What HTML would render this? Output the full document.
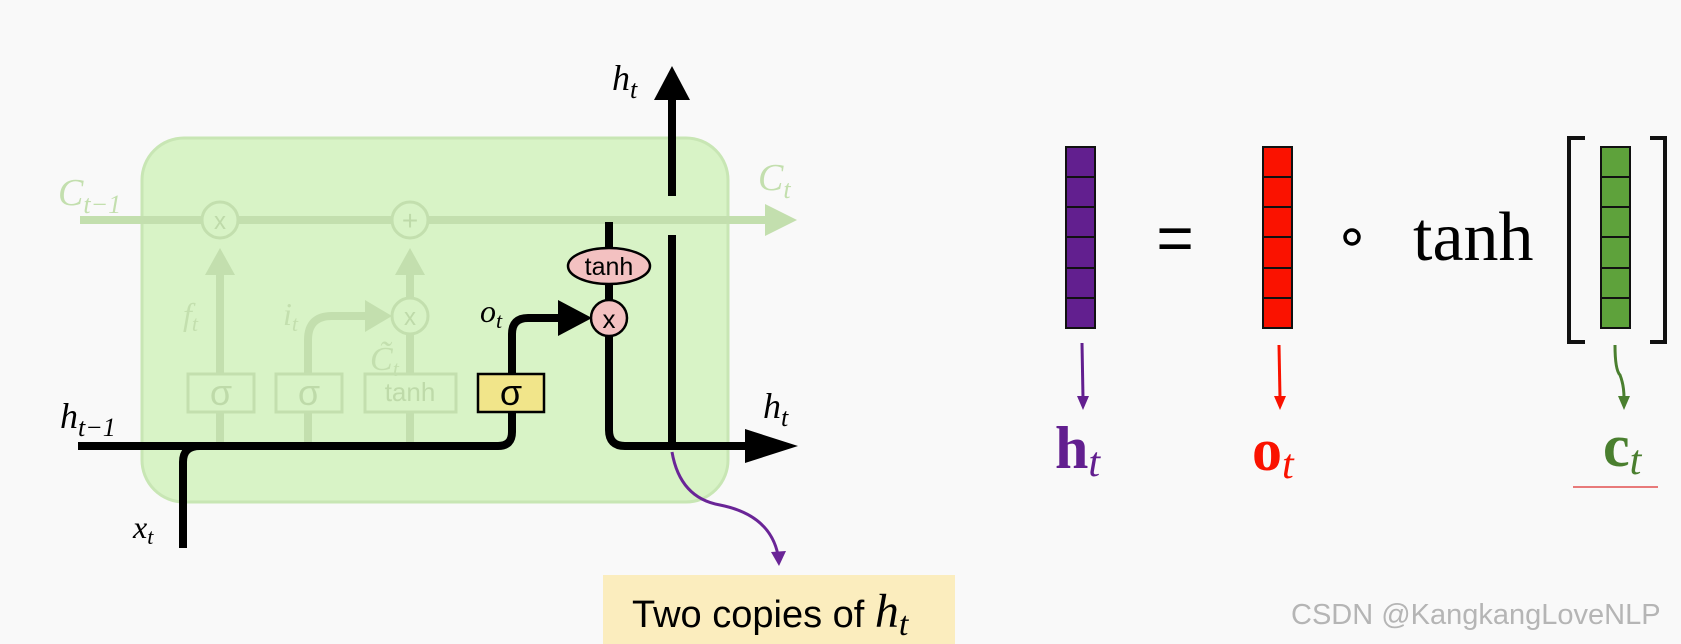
<!DOCTYPE html>
<html><head><style>html,body{margin:0;padding:0;background:#f9f9f9;}svg{display:block}</style></head>
<body>
<svg width="1681" height="644" viewBox="0 0 1681 644" xmlns="http://www.w3.org/2000/svg" font-family="Liberation Serif, serif">
<rect width="1681" height="644" fill="#f9f9f9"/>
<rect x="142" y="138" width="586" height="364" rx="42" fill="#d8f3c6" stroke="#c8e6b4" stroke-width="3"/>
<g stroke="#c3dfae" fill="none" stroke-width="8">
<line x1="80" y1="220" x2="765" y2="220"/>
<line x1="220" y1="446" x2="220" y2="270"/>
<line x1="410" y1="446" x2="410" y2="334"/>
<line x1="410" y1="298" x2="410" y2="270"/>
<path d="M308 446 V340 Q308 316 332 316 H370"/>
</g>
<g fill="#c3dfae">
<polygon points="765,204 797,220 765,236"/>
<polygon points="205,275 220,248 235,275"/>
<polygon points="395,275 410,248 425,275"/>
<polygon points="365,300 392,316 365,332"/>
</g>
<g fill="#d8f3c6" stroke="#c3dfae" stroke-width="3">
<circle cx="220" cy="220" r="18"/><circle cx="410" cy="220" r="18"/><circle cx="410" cy="316" r="18"/>
<rect x="188" y="374" width="66" height="38"/><rect x="276" y="374" width="66" height="38"/><rect x="365" y="374" width="91" height="38"/>
</g>
<g fill="#bedaa9" font-family="Liberation Sans, sans-serif" text-anchor="middle">
<text x="220" y="229" font-size="24">x</text><text x="410" y="230" font-size="28">+</text><text x="410" y="325" font-size="24">x</text>
<text x="221" y="405" font-size="36">σ</text><text x="309" y="405" font-size="36">σ</text><text x="410" y="401" font-size="26">tanh</text>
</g>
<g fill="#c3dfae" font-style="italic">
<text x="58" y="205" font-size="38">C<tspan font-size="26" dy="8">t−1</tspan></text>
<text x="758" y="190" font-size="38">C<tspan font-size="26" dy="8">t</tspan></text>
<text x="183" y="325" font-size="32">f<tspan font-size="22" dy="6">t</tspan></text>
<text x="283" y="325" font-size="32">i<tspan font-size="22" dy="6">t</tspan></text>
<text x="370" y="370" font-size="34">C̃<tspan font-size="22" dy="6">t</tspan></text>
</g>
<g stroke="#000" fill="none" stroke-width="8">
<path d="M78 446 H498 Q512 446 512 432 V412"/>
<path d="M183 548 V462 Q183 446 200 446"/>
<path d="M512 374 V334 Q512 318 528 318 H562"/>
<line x1="609" y1="222" x2="609" y2="248"/>
<line x1="609" y1="283" x2="609" y2="300"/>
<path d="M609 336 V430 Q609 446 625 446 H745"/>
<line x1="672" y1="446" x2="672" y2="235"/>
<line x1="672" y1="196" x2="672" y2="95"/>
</g>
<polygon points="558,300 592,318 558,336" fill="#000"/>
<polygon points="745,429 798,446 745,463" fill="#000"/>
<polygon points="654,100 672,66 690,100" fill="#000"/>
<rect x="478" y="374" width="66" height="38" fill="#f1e58a" stroke="#000" stroke-width="2.5"/>
<text x="511" y="405" font-size="36" font-family="Liberation Sans, sans-serif" text-anchor="middle">σ</text>
<ellipse cx="609" cy="266" rx="41" ry="18" fill="#f3c1c1" stroke="#000" stroke-width="2.5"/>
<text x="609" y="275" font-size="25" font-family="Liberation Sans, sans-serif" text-anchor="middle">tanh</text>
<circle cx="609" cy="318" r="18" fill="#f3c1c1" stroke="#000" stroke-width="2.5"/>
<text x="609" y="328" font-size="26" font-family="Liberation Sans, sans-serif" text-anchor="middle">x</text>
<g font-style="italic" fill="#000">
<text x="60" y="428" font-size="36">h<tspan font-size="26" dy="8">t−1</tspan></text>
<text x="133" y="538" font-size="32">x<tspan font-size="22" dy="6">t</tspan></text>
<text x="480" y="322" font-size="32">o<tspan font-size="22" dy="6">t</tspan></text>
<text x="612" y="90" font-size="36">h<tspan font-size="26" dy="8">t</tspan></text>
<text x="763" y="418" font-size="36">h<tspan font-size="26" dy="8">t</tspan></text>
</g>
<path d="M672 452 Q680 498 720 505 Q770 515 778 555" stroke="#6a2597" stroke-width="3" fill="none"/>
<polygon points="771,552 779,566 786,551" fill="#6a2597"/>
<rect x="603" y="575" width="352" height="69" fill="#fbedbe"/>
<text x="632" y="627" font-size="38" font-family="Liberation Sans, sans-serif">Two copies of <tspan font-family="Liberation Serif, serif" font-style="italic" font-size="48">h</tspan><tspan font-family="Liberation Serif, serif" font-style="italic" font-size="34" dy="8">t</tspan></text>
<g stroke="#111" stroke-width="2">
<rect x="1066" y="147" width="29" height="181" fill="#621f8f"/>
<rect x="1263" y="147" width="29" height="181" fill="#fa1200"/>
<rect x="1601" y="147" width="29" height="181" fill="#5ea23b"/>
<path d="M1066 177h29M1066 207h29M1066 237h29M1066 268h29M1066 298h29M1263 177h29M1263 207h29M1263 237h29M1263 268h29M1263 298h29M1601 177h29M1601 207h29M1601 237h29M1601 268h29M1601 298h29"/>
</g>
<text x="1175" y="260" font-size="64" text-anchor="middle" font-family="Liberation Sans, sans-serif">=</text>
<circle cx="1352" cy="237" r="7" fill="none" stroke="#000" stroke-width="3.5"/>
<text x="1413" y="260" font-size="70">tanh</text>
<path d="M1585 138 H1569 V342 H1585 M1650 138 H1665 V342 H1650" stroke="#111" stroke-width="4" fill="none"/>
<path d="M1082 343 L1083 398" stroke="#621f8f" stroke-width="3"/><polygon points="1077,396 1083,410 1089,396" fill="#621f8f"/>
<path d="M1279 345 L1280 398" stroke="#fa1200" stroke-width="3"/><polygon points="1274,396 1280,410 1286,396" fill="#fa1200"/>
<path d="M1615 345 Q1615 370 1620 375 Q1624 385 1624 398" stroke="#4a7f2f" stroke-width="3" fill="none"/><polygon points="1618,396 1624,410 1630,396" fill="#4a7f2f"/>
<text x="1055" y="468" font-size="60" font-weight="bold" fill="#621f8f">h<tspan font-weight="normal" font-style="italic" font-size="42" dy="8">t</tspan></text>
<text x="1252" y="470" font-size="60" font-weight="bold" fill="#fa1200">o<tspan font-weight="normal" font-style="italic" font-size="42" dy="8">t</tspan></text>
<text x="1603" y="466" font-size="60" font-weight="bold" fill="#4a7f2f">c<tspan font-weight="normal" font-style="italic" font-size="42" dy="8">t</tspan></text>
<line x1="1573" y1="487" x2="1658" y2="487" stroke="#e87a7a" stroke-width="2"/>
<text x="1291" y="624" font-size="29" fill="#b5b5b5" font-family="Liberation Sans, sans-serif">CSDN @KangkangLoveNLP</text>
</svg>
</body></html>
